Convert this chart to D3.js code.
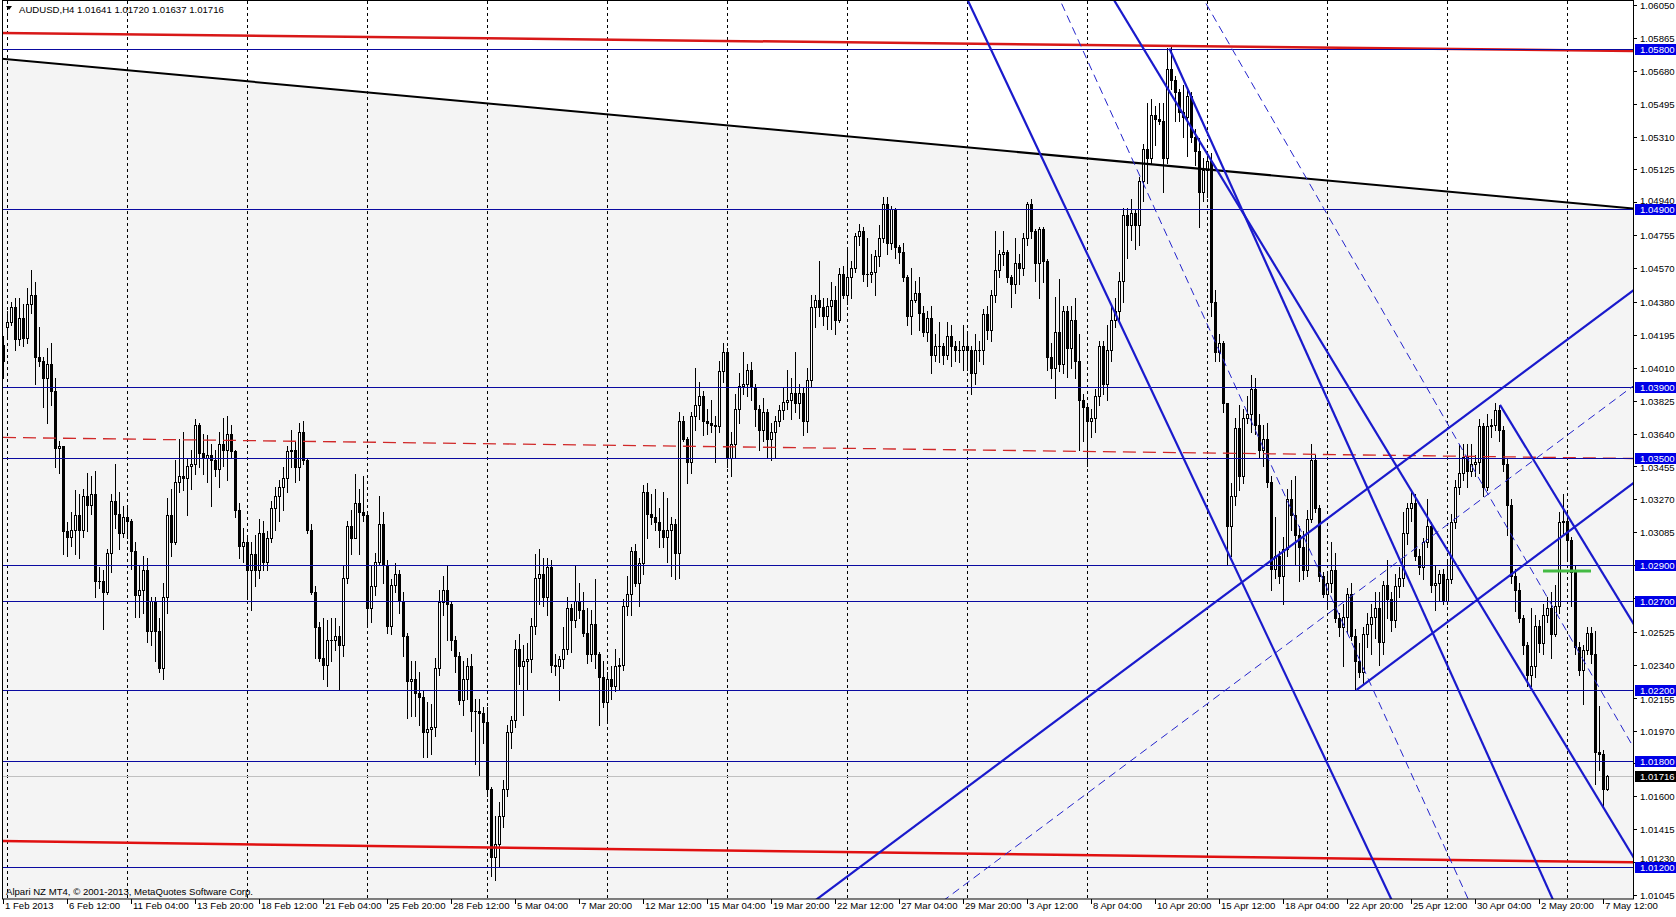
<!DOCTYPE html>
<html><head><meta charset="utf-8">
<script src="https://cdn.jsdelivr.net/npm/d3@7"></script>
<style>html,body{margin:0;padding:0;background:#fff;overflow:hidden}svg{display:block}</style>
</head><body><svg id="c" width="1676" height="917"></svg>
<script>
// ---------------- DATA ----------------
const symbolTitle = "AUDUSD,H4  1.01641 1.01720 1.01637 1.01716";
const copyright = "Alpari NZ MT4, \u00A9 2001-2013, MetaQuotes Software Corp.";
const timeLabels = ["1 Feb 2013","6 Feb 12:00","11 Feb 04:00","13 Feb 20:00","18 Feb 12:00","21 Feb 04:00","25 Feb 20:00","28 Feb 12:00","5 Mar 04:00","7 Mar 20:00","12 Mar 12:00","15 Mar 04:00","19 Mar 20:00","22 Mar 12:00","27 Mar 04:00","29 Mar 20:00","3 Apr 12:00","8 Apr 04:00","10 Apr 20:00","15 Apr 12:00","18 Apr 04:00","22 Apr 20:00","25 Apr 12:00","30 Apr 04:00","2 May 20:00","7 May 12:00"];
const priceTicks = ["1.06050","1.05865","1.05680","1.05495","1.05310","1.05125","1.04940","1.04755","1.04570","1.04380","1.04195","1.04010","1.03825","1.03640","1.03455","1.03270","1.03085","1.02900","1.02715","1.02525","1.02340","1.02155","1.01970","1.01785","1.01600","1.01415","1.01230","1.01045"];
const levels = [1.0580,1.0490,1.0390,1.0350,1.0290,1.0270,1.0220,1.0180,1.0120];
const lastPrice = 1.01716;
// H4 candles: [open, high, low, close] in pips above 1.0000
const candlePips = [
[414,419,395,405],[424,433,417,427],[427,438,425,435],[435,440,411,417],[417,440,414,429],[429,437,413,418],[418,446,415,437],[437,456,432,442],[442,449,392,407],[407,424,402,405],
[405,407,379,395],[395,412,370,403],[403,415,380,388],[388,395,345,356],[356,360,342,357],[357,357,296,309],[309,314,295,306],[306,320,301,310],[310,332,296,318],[318,330,294,310],
[310,333,306,329],[329,342,309,324],[324,340,319,330],[330,343,272,281],[281,289,277,281],[281,287,254,275],[275,299,274,297],[297,330,286,326],[326,347,311,319],[319,331,299,308],
[308,323,306,317],[317,323,305,315],[315,316,288,298],[298,303,261,273],[273,290,261,276],[276,295,263,287],[287,294,247,253],[253,272,245,270],[270,272,236,253],[253,260,230,232],
[232,280,226,272],[272,328,263,318],[318,333,295,303],[303,349,302,337],[337,361,331,340],[340,365,332,339],[339,350,318,346],[346,355,333,347],[347,372,341,369],[369,370,345,353],
[353,364,341,350],[350,363,337,352],[352,358,323,349],[349,355,340,344],[344,365,334,358],[358,373,346,355],[355,374,338,364],[364,369,350,354],[354,355,317,321],[321,325,294,301],
[301,311,292,303],[303,305,271,287],[287,303,265,296],[296,307,278,287],[287,316,283,308],[308,315,287,292],[292,309,287,305],[305,326,303,322],[322,334,310,329],[329,338,315,334],
[334,345,321,339],[339,357,331,354],[354,366,345,355],[355,359,337,345],[345,370,338,365],[365,371,347,349],[349,350,308,310],[310,313,274,275],[275,278,238,255],[255,258,236,238],
[238,260,226,234],[234,259,222,248],[248,260,236,248],[248,260,242,250],[250,256,220,245],[245,290,239,283],[283,315,280,312],[312,321,296,305],[305,341,305,325],[325,333,296,320],
[320,340,315,318],[318,320,255,266],[266,290,258,278],[278,297,273,292],[292,329,290,313],[313,320,280,290],[290,293,252,256],[256,282,251,279],[279,291,275,285],[285,287,263,270],
[270,275,239,250],[250,252,204,225],[225,236,205,226],[226,236,205,218],[218,230,200,216],[216,219,182,196],[196,213,182,198],[198,212,184,199],[199,238,194,232],[232,276,228,269],
[269,284,262,276],[276,290,248,268],[268,270,242,248],[248,250,230,239],[239,241,212,214],[214,236,206,226],[226,238,215,233],[233,240,197,208],[208,215,178,208],[208,215,172,207],
[207,210,190,202],[202,210,160,164],[164,165,115,126],[126,149,113,133],[133,157,120,149],[149,169,143,164],[164,200,160,196],[196,205,187,203],[203,248,199,243],[243,251,223,233],
[233,245,206,236],[236,246,220,237],[237,260,230,256],[256,296,251,283],[283,299,268,285],[285,294,267,272],[272,294,262,289],[289,293,230,234],[234,240,228,233],[233,239,214,237],
[237,255,232,243],[243,272,240,266],[266,268,241,259],[259,290,255,270],[270,280,260,265],[265,275,250,252],[252,266,235,240],[240,265,236,257],[257,282,232,240],[240,241,200,227],
[227,236,210,213],[213,230,202,226],[226,233,215,222],[222,243,219,233],[233,238,220,234],[234,271,231,267],[267,284,262,274],[274,300,262,298],[298,302,278,280],[280,294,267,291],
[291,335,285,331],[331,336,305,319],[319,330,313,317],[317,333,310,314],[314,322,300,310],[310,331,300,306],[306,328,292,310],[310,317,284,313],[313,316,282,297],[297,376,283,371],
[371,374,360,361],[361,362,336,348],[348,376,342,374],[374,401,366,380],[380,393,372,385],[385,388,363,371],[371,378,364,370],[370,383,365,369],[369,374,348,368],[368,405,365,399],
[399,415,393,410],[410,412,345,350],[350,365,340,358],[358,386,350,378],[378,398,370,391],[391,410,386,392],[392,403,385,400],[400,404,383,390],[390,392,368,378],[378,380,355,366],
[366,384,360,376],[376,378,351,361],[361,370,349,365],[365,374,351,371],[371,380,368,377],[377,390,372,382],[382,400,378,383],[383,395,372,387],[387,410,376,381],[381,392,373,387],
[387,390,363,371],[371,401,365,394],[394,442,390,435],[435,442,424,439],[439,461,430,435],[435,440,425,430],[430,440,423,436],[436,449,423,439],[439,447,420,428],[428,457,427,454],
[454,458,440,442],[442,467,437,452],[452,461,440,457],[457,477,455,475],[475,482,470,478],[478,480,450,454],[454,474,447,454],[454,465,449,455],[455,467,442,464],[464,481,458,474],
[474,497,472,493],[493,497,465,471],[471,492,468,490],[490,491,463,469],[469,470,460,466],[466,471,450,452],[452,453,425,430],[430,457,420,439],[439,450,438,443],[443,452,422,432],
[432,436,419,421],[421,433,416,429],[429,436,398,408],[408,420,405,413],[413,427,404,413],[413,415,403,408],[408,427,406,419],[419,425,402,413],[413,416,405,411],[411,416,404,411],
[411,425,400,413],[413,420,400,411],[411,413,386,398],[398,420,392,411],[411,416,405,411],[411,434,403,431],[431,436,417,422],[422,445,416,442],[442,478,438,456],[456,467,452,465],
[465,478,459,466],[466,467,449,452],[452,453,435,448],[448,474,443,460],[460,465,448,457],[457,477,453,474],[474,494,470,493],[493,496,474,478],[478,479,450,460],[460,480,440,479],
[479,480,449,461],[461,462,400,407],[407,415,395,401],[401,441,384,421],[421,451,399,403],[403,436,398,433],[433,436,396,412],[412,436,401,428],[428,440,395,405],[405,420,355,383],
[383,386,360,379],[379,380,346,371],[371,378,362,373],[373,389,365,385],[385,416,380,413],[413,416,386,392],[392,425,383,411],[411,435,405,428],[428,440,424,433],[433,455,428,450],
[450,491,438,487],[487,491,463,481],[481,496,473,488],[488,490,468,481],[481,508,470,506],[506,527,495,524],[524,550,505,519],[519,552,516,543],[543,548,526,541],[541,550,538,540],
[540,550,500,519],[519,581,516,569],[569,582,558,563],[563,565,540,556],[556,558,540,545],[545,560,531,542],[542,558,520,554],[554,556,528,531],[531,535,515,523],[523,530,480,500],
[500,519,495,512],[512,520,497,517],[517,522,430,438],[438,445,405,410],[410,420,405,415],[415,416,376,381],[381,381,290,312],[312,336,295,329],[329,373,324,367],[367,380,332,340],
[340,378,336,373],[373,385,370,375],[375,397,365,389],[389,395,364,369],[369,375,350,355],[355,369,346,361],[361,370,334,337],[337,340,276,288],[288,317,283,295],[295,298,280,284],
[284,306,268,299],[299,333,295,327],[327,338,310,318],[318,340,290,307],[307,312,281,300],[300,309,282,287],[287,321,284,316],[316,358,314,349],[349,352,320,322],[322,324,281,284],
[284,286,272,274],[274,286,266,280],[280,303,275,287],[287,297,258,260],[260,263,250,255],[255,268,233,261],[261,277,252,274],[274,280,248,250],[250,254,220,236],[236,246,227,230],
[230,255,224,251],[251,263,244,257],[257,268,240,261],[261,275,249,266],[266,275,234,247],[247,281,240,279],[279,293,260,271],[271,275,253,259],[259,285,255,278],[278,289,272,283],
[283,320,278,308],[308,325,302,322],[322,331,315,325],[325,330,293,295],[295,299,285,289],[289,305,282,303],[303,327,300,312],[312,314,275,279],[279,290,265,280],[280,287,270,285],
[285,288,268,270],[270,292,268,282],[282,319,280,314],[314,338,311,334],[334,358,330,342],[342,358,338,351],[351,358,334,343],[343,358,340,347],[347,352,340,348],[348,372,342,368],
[368,370,329,334],[334,375,332,368],[368,372,362,369],[369,381,366,377],[377,380,360,366],[366,368,343,347],[347,350,307,324],[324,327,280,284],[284,288,264,276],[276,280,258,260],
[260,262,240,245],[245,247,222,228],[228,266,222,233],[233,262,227,256],[256,259,241,246],[246,268,240,262],[262,272,258,266],[266,275,238,251],[251,279,250,267],[267,320,263,314],
[314,330,308,315],[315,321,293,304],[304,306,267,286],[286,290,240,244],[244,247,228,231],[231,245,212,242],[242,255,240,252],[252,255,235,240],[240,253,167,185],[185,211,175,184],
[184,186,154,164],[164.1,172.0,163.7,171.6]
];
// drawn objects, anchors as [bar index, price]
const blackTrend = [[0,1.05747],[400,1.04921]];
const redTop = [[0,1.05893],[400,1.05793]];
const redBottom = [[0,1.01348],[400,1.01231]];
const redDashed = [[0,1.03618],[400,1.03502]];
const thickFull = [
  [[244.7,1.05909],[304.25,1.03066]],
  [[277.75,1.06078],[407.5,1.01262]],
  [[384.25,1.04054],[407.5,1.04444]]
];
const thickRays = [
  [[291.6,1.05805],[327.2,1.04028]],
  [[374.25,1.03801],[407.5,1.02575]],
  [[338.4,1.02198],[407.5,1.03360]]
];
const dashedFull = [
  [[264.25,1.06078],[305.1,1.04054]],
  [[300.25,1.06078],[407.5,1.01880]],
  [[301.75,1.02132],[406.75,1.03894]]
];
const greenSegment = [[385,1.02867],[397,1.02867]];

// ---------------- DRAW ----------------
const W=1676,H=917, plotL=2, plotR=1633, plotT=1, plotB=899;
const FONT = "'Liberation Sans', Arial, sans-serif";
const xs = d3.scaleLinear().domain([0,401]).range([3,1607]);
const ys = d3.scaleLinear().domain([1.01045,1.06050]).range([895,5]);
const svg = d3.select('#c');
svg.append('rect').attr('width',W).attr('height',H).attr('fill','#fff');
svg.append('defs').append('clipPath').attr('id','clip').append('rect')
  .attr('x',plotL).attr('y',plotT).attr('width',plotR-plotL).attr('height',plotB-plotT);
const plot = svg.append('g').attr('clip-path','url(#clip)');

function ext(a,b,mode){
  const x1=xs(a[0]),y1=ys(a[1]),x2=xs(b[0]),y2=ys(b[1]);
  const dx=x2-x1,dy=y2-y1,k=4000/Math.hypot(dx,dy);
  const t0 = mode==='ray'?0:-k;
  return [[x1+dx*t0,y1+dy*t0],[x1+dx*k,y1+dy*k]];
}
function yAt(a,b,x){ const x1=xs(a[0]),y1=ys(a[1]),x2=xs(b[0]),y2=ys(b[1]); return y1+(y2-y1)*(x-x1)/(x2-x1); }

// grey area below black trend line
plot.append('path').attr('fill','#f4f4f4')
  .attr('d', d3.line()([[plotL-5,yAt(blackTrend[0],blackTrend[1],plotL-5)],[plotR+5,yAt(blackTrend[0],blackTrend[1],plotR+5)],[plotR+5,plotB+5],[plotL-5,plotB+5]]));

// vertical grid (weekly)
plot.append('g').selectAll('line').data(d3.range(1,402,30)).join('line')
  .attr('x1',d=>Math.round(xs(d))+0.5).attr('x2',d=>Math.round(xs(d))+0.5)
  .attr('y1',plotT).attr('y2',plotB).attr('stroke','#000').attr('stroke-width',1).attr('stroke-dasharray','3,3');

// bid line
plot.append('line').attr('x1',plotL).attr('x2',plotR).attr('y1',Math.round(ys(lastPrice))+0.5).attr('y2',Math.round(ys(lastPrice))+0.5)
  .attr('stroke','#c0c0c0').attr('stroke-width',1);

// candles
const cg = plot.append('g');
candlePips.forEach((c,i)=>{
  const [o,h,l,cl] = c.map(v=>1+v/10000);
  const x = Math.round(xs(i));
  const yo=Math.round(ys(o)), yc=Math.round(ys(cl)), yh=Math.round(ys(h)), yl=Math.round(ys(l));
  cg.append('line').attr('x1',x+0.5).attr('x2',x+0.5).attr('y1',yh).attr('y2',yl+1).attr('stroke','#000').attr('stroke-width',1);
  const top=Math.min(yo,yc), bot=Math.max(yo,yc);
  if (bot-top<1){
    cg.append('line').attr('x1',x-1).attr('x2',x+2).attr('y1',top+0.5).attr('y2',top+0.5).attr('stroke','#000');
  } else if (cl>o){
    cg.append('rect').attr('x',x-0.5).attr('y',top+0.5).attr('width',2).attr('height',bot-top).attr('fill','#fff').attr('stroke','#000').attr('stroke-width',1);
  } else {
    cg.append('rect').attr('x',x-1).attr('y',top).attr('width',3).attr('height',bot-top+1).attr('fill','#000');
  }
});

function drawLine(g,pts,color,w,dash){
  const p=g.append('path').attr('d',d3.line()(pts)).attr('fill','none').attr('stroke',color).attr('stroke-width',w);
  if(dash) p.attr('stroke-dasharray',dash);
  return p;
}
drawLine(plot, ext(redTop[0],redTop[1]), '#d81818', 2.5);
drawLine(plot, ext(redBottom[0],redBottom[1]), '#e01010', 2.5);
drawLine(plot, ext(redDashed[0],redDashed[1]), '#d02828', 1.3, '13,7');
drawLine(plot, ext(blackTrend[0],blackTrend[1]), '#000', 2);

plot.append('g').selectAll('line').data(levels).join('line')
  .attr('x1',plotL).attr('x2',plotR).attr('y1',d=>Math.round(ys(d))+0.5).attr('y2',d=>Math.round(ys(d))+0.5)
  .attr('stroke','#0a0aa0').attr('stroke-width',1);

thickFull.forEach(l=>drawLine(plot, ext(l[0],l[1]), '#1a1acc', 2.2));
thickRays.forEach(l=>drawLine(plot, ext(l[0],l[1],'ray'), '#1a1acc', 2.2));
dashedFull.forEach(l=>drawLine(plot, ext(l[0],l[1]), '#2424cc', 1, '8,5'));
drawLine(plot, greenSegment.map(p=>[xs(p[0]),ys(p[1])]), '#44bb44', 3);

// header text
svg.append('path').attr('d','M6,6 L12,6 L9,10 Z').attr('fill','#000');
svg.append('text').attr('x',19).attr('y',13).attr('font-family',FONT).attr('font-size',9.6).attr('fill','#000').text(symbolTitle);
svg.append('text').attr('x',6).attr('y',895).attr('font-family',FONT).attr('font-size',9.6).attr('fill','#000').text(copyright);

// frame
svg.append('rect').attr('x',plotL+0.5).attr('y',plotT-0.5).attr('width',plotR-plotL).attr('height',plotB-plotT+0.5)
  .attr('fill','none').attr('stroke','#000').attr('stroke-width',1);

// right price axis
const ax = svg.append('g');
const levelYs = levels.map(v=>ys(v));
priceTicks.forEach(t=>{
  const y0=ys(+t);
  const y=Math.round(y0);
  ax.append('line').attr('x1',plotR+0.5).attr('x2',plotR+4).attr('y1',y+0.5).attr('y2',y+0.5).attr('stroke','#000');
  // labels partly covered by a level box are nudged clear of it; fully covered ones stay hidden under the box
  let ty=y0;
  levelYs.forEach(ly=>{ const d=y0-ly; if(Math.abs(d)>4 && Math.abs(d)<9){ ty = ly + Math.sign(d)*9; } });
  ax.append('text').attr('x',plotR+7).attr('y',Math.round(ty)+4).attr('font-family',FONT).attr('font-size',9.6).attr('fill','#000').text(t);
});
levels.forEach(v=>{
  const y=Math.round(ys(v));
  ax.append('rect').attr('x',plotR+2).attr('y',y-5).attr('width',W-plotR-2).attr('height',11).attr('fill','#0000e6');
  ax.append('text').attr('x',plotR+7).attr('y',y+4).attr('font-family',FONT).attr('font-size',9.6).attr('fill','#fff').text(v.toFixed(5));
});
{
  const y=Math.round(ys(lastPrice));
  ax.append('rect').attr('x',plotR+2).attr('y',y-5).attr('width',W-plotR-2).attr('height',11).attr('fill','#000');
  ax.append('text').attr('x',plotR+7).attr('y',y+4).attr('font-family',FONT).attr('font-size',9.6).attr('fill','#fff').text(lastPrice.toFixed(5));
}

// bottom time axis
timeLabels.forEach((t,k)=>{
  const x=Math.round(xs(k*16));
  ax.append('line').attr('x1',x+0.5).attr('x2',x+0.5).attr('y1',plotB).attr('y2',plotB+5).attr('stroke','#000');
  ax.append('text').attr('x',x+2).attr('y',909).attr('font-family',FONT).attr('font-size',9.6).attr('fill','#000').text(t);
});
</script>
</body></html>
